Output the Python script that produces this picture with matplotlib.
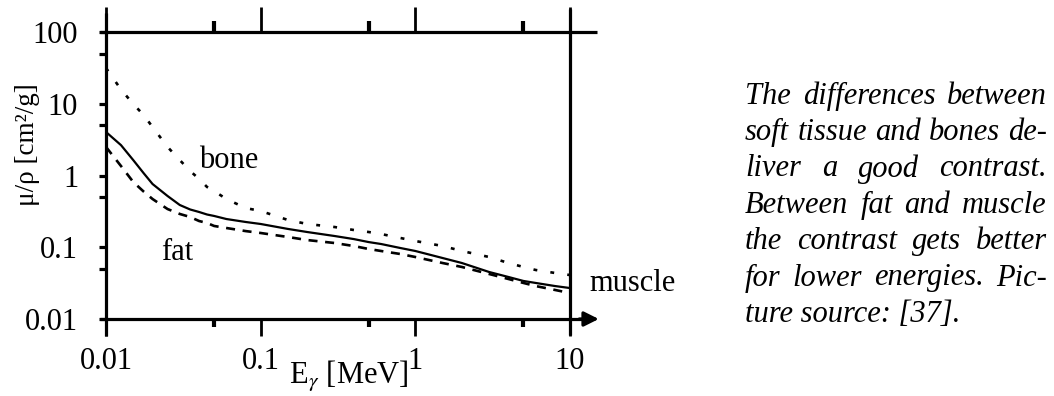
import matplotlib.pyplot as plt
from matplotlib.ticker import NullFormatter

plt.rcParams['font.family'] = 'Liberation Serif'
plt.rcParams['mathtext.fontset'] = 'stix'
plt.rcParams['lines.scale_dashes'] = False

# ---------------- DATA ----------------

energy = [0.01, 0.0125, 0.015, 0.0175, 0.02, 0.025, 0.03, 0.035, 0.04, 0.045,
          0.05, 0.06, 0.08, 0.1, 0.15, 0.2, 0.3, 0.4, 0.5, 0.6, 0.8, 1, 1.5,
          2, 3, 4, 5, 6, 8, 10]

muscle = [4.04, 2.65, 1.64, 1.08, 0.761, 0.518, 0.388, 0.336, 0.310, 0.286,
          0.273, 0.2475, 0.225, 0.211, 0.180, 0.163, 0.1435, 0.130, 0.118,
          0.111, 0.0976, 0.0887, 0.0708, 0.0603, 0.0452, 0.0385, 0.0339,
          0.0318, 0.0288, 0.0270]

fat = [2.50, 1.356, 0.812, 0.598, 0.470, 0.341, 0.291, 0.264, 0.232, 0.218,
       0.198, 0.1855, 0.168, 0.158, 0.139, 0.126, 0.1146, 0.104, 0.0945,
       0.0887, 0.0805, 0.0731, 0.0603, 0.0531, 0.0424, 0.0361, 0.0318,
       0.0288, 0.0254, 0.0230]

bone = [31.5, 15.8, 9.92, 6.97, 4.74, 2.50, 1.64, 1.156, 0.894, 0.692,
        0.608, 0.470, 0.352, 0.320, 0.240, 0.211, 0.1915, 0.174, 0.163,
        0.153, 0.1346, 0.1222, 0.1041, 0.0887, 0.0731, 0.0603, 0.0531,
        0.0482, 0.0438, 0.0410]

x_major = [0.01, 0.1, 1, 10]
x_major_labels = ['0.01', '0.1', '1', '10']
x_minor = [0.05, 0.5, 5]
y_major = [0.01, 0.1, 1, 10, 100]
y_major_labels = ['0.01', '0.1', '1', '10', '100']
y_minor = [0.05, 0.5, 5, 50]

caption_lines = [
    "The differences between",
    "soft tissue and bones de-",
    "liver a good contrast.",
    "Between fat and muscle",
    "the contrast gets better",
    "for lower energies. Pic-",
    "ture source: [37].",
]

W, H = 1054, 396
FS = 22

# ---------------- FIGURE ----------------

fig = plt.figure(figsize=(W / 100, H / 100), dpi=100)
ax = fig.add_axes([106 / W, 1 - 319 / H, 464 / W, 287 / H])
ax.set_xscale('log')
ax.set_yscale('log')
ax.set_xlim(0.01, 10)
ax.set_ylim(0.01, 100)
for s in ax.spines.values():
    s.set_visible(False)

ax.plot(energy, muscle, color='k', lw=1.6)
ax.plot(energy, fat, color='k', lw=1.9, dashes=(6.5, 5.5))
ax.plot(energy, bone, color='k', lw=1.9, dashes=(2.8, 9.5))

# frame lines drawn by hand so they can run past the corners
frame_kw = dict(transform=ax.transAxes, clip_on=False, color='k', lw=2.3,
                solid_capstyle='butt')
ax.plot([-0.013, 1.058], [1, 1], **frame_kw)
ax.plot([-0.013, 1.03], [0, 0], **frame_kw)
ax.plot([0, 0], [-0.059, 1.066], **frame_kw)
ax.plot([1, 1], [-0.056, 1.080], **frame_kw)
ax.annotate('', xy=(1.062, 0), xytext=(1.02, 0), xycoords='axes fraction',
            arrowprops=dict(arrowstyle='-|>', lw=2.3, color='k',
                            mutation_scale=22, shrinkA=0, shrinkB=0))

# bottom / left ticks
ax.set_xticks(x_major, labels=x_major_labels)
ax.set_xticks(x_minor, minor=True)
ax.set_yticks(y_major, labels=y_major_labels)
ax.set_yticks(y_minor, minor=True)
ax.xaxis.set_minor_formatter(NullFormatter())
ax.yaxis.set_minor_formatter(NullFormatter())
ax.tick_params(axis='x', which='major', direction='out', length=12, width=2,
               pad=8, labelsize=FS)
ax.tick_params(axis='x', which='minor', direction='out', length=6, width=3)
ax.tick_params(axis='y', which='both', direction='out', length=5, width=2.3,
               pad=15, labelsize=FS)

# top ticks
top = ax.secondary_xaxis('top')
top.spines['top'].set_visible(False)
top.set_xticks(x_major)
top.set_xticks(x_minor, minor=True)
top.xaxis.set_major_formatter(NullFormatter())
top.xaxis.set_minor_formatter(NullFormatter())
top.tick_params(which='major', direction='out', length=18, width=2)
top.tick_params(which='minor', direction='out', length=8, width=3)

# ---------------- LABELS ----------------

ax.text(0.265, 0.554, 'bone', transform=ax.transAxes, fontsize=FS,
        ha='center', va='center')
ax.text(0.153, 0.230, 'fat', transform=ax.transAxes, fontsize=FS,
        ha='center', va='center')
ax.text(1.134, 0.125, 'muscle', transform=ax.transAxes, fontsize=FS,
        ha='center', va='center')

fig.text(27 / W, 1 - 145 / H, 'μ/ρ [cm²/g]', rotation=90, fontsize=19.5,
         ha='center', va='center')
fig.text(349 / W, 1 - 376 / H, r'E$_\gamma$ [MeV]', fontsize=FS,
         ha='center', va='center')

# ---------------- CAPTION (justified) ----------------

fig.canvas.draw()
renderer = fig.canvas.get_renderer()
left, right = 745 / W, 1047 / W
for i, line in enumerate(caption_lines):
    y = 1 - (96 + 36.4 * i) / H
    words = line.split()
    if i == len(caption_lines) - 1:
        fig.text(left, y, line, fontsize=22, style='italic', va='center')
        continue
    texts = [fig.text(0, y, w, fontsize=22, style='italic', va='center')
             for w in words]
    widths = [t.get_window_extent(renderer).width / W for t in texts]
    gap = (right - left - sum(widths)) / (len(words) - 1)
    x = left
    for t, w in zip(texts, widths):
        t.set_x(x)
        x += w + gap

fig.savefig('out.png', dpi=100)
